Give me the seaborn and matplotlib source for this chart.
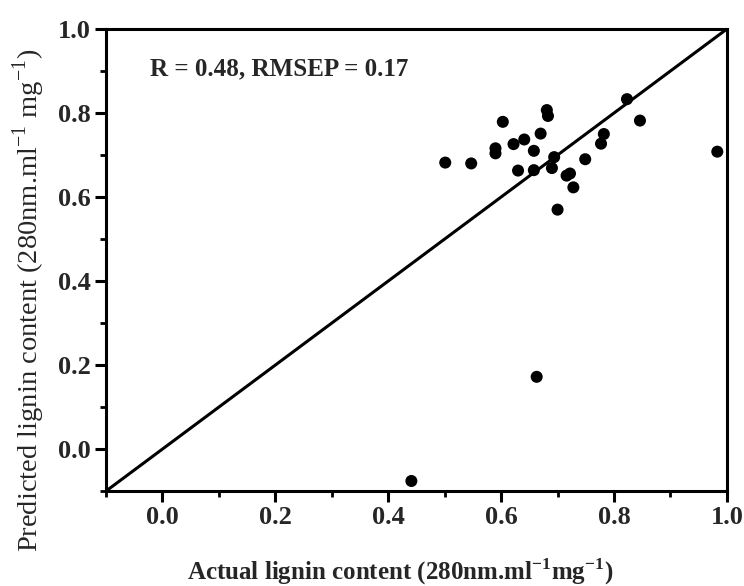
import matplotlib
matplotlib.use("Agg")
import matplotlib.pyplot as plt
from matplotlib.ticker import MultipleLocator
import seaborn as sns
import pandas as pd

# values
actual = [0.501, 0.547, 0.590, 0.590, 0.603, 0.622, 0.641, 0.658, 0.670,
          0.681, 0.683, 0.630, 0.658, 0.694, 0.690, 0.716, 0.722, 0.728,
          0.700, 0.749, 0.777, 0.782, 0.823, 0.846, 0.983, 0.663, 0.441]
predicted = [0.682, 0.680, 0.716, 0.704, 0.779, 0.726, 0.737, 0.710, 0.751,
             0.807, 0.793, 0.663, 0.664, 0.695, 0.669, 0.651, 0.656, 0.623,
             0.570, 0.690, 0.727, 0.750, 0.833, 0.782, 0.708, 0.172, -0.076]
stats_label = "R = 0.48, RMSEP = 0.17"
x_label = "Actual lignin content (280nm.ml$^{\\mathbf{-1}}$mg$^{\\mathbf{-1}}$)"
y_label = "Predicted lignin content (280nm.ml$^{-1}$ mg$^{-1}$)"

df = pd.DataFrame({"actual": actual, "predicted": predicted})

sns.set_theme(style="ticks")
plt.rcParams["font.family"] = ["Liberation Serif", "DejaVu Serif"]
plt.rcParams["mathtext.fontset"] = "custom"
plt.rcParams["mathtext.rm"] = "Liberation Serif"
plt.rcParams["mathtext.bf"] = "Liberation Serif:bold"

fig = plt.figure(figsize=(7.44, 5.86), dpi=100)
ax = fig.add_axes([0.1425, 0.162, 0.8345, 0.7885])

sns.scatterplot(data=df, x="actual", y="predicted", color="black",
                s=75, edgecolor="none", ax=ax, zorder=3)
ax.axline((0, 0), slope=1, color="black", linewidth=2.2, zorder=2)

ax.set_xlim(-0.1, 1.0)
ax.set_ylim(-0.1, 1.0)
ax.xaxis.set_major_locator(MultipleLocator(0.2))
ax.xaxis.set_minor_locator(MultipleLocator(0.1))
ax.yaxis.set_major_locator(MultipleLocator(0.2))
ax.yaxis.set_minor_locator(MultipleLocator(0.1))
ax.tick_params(which="major", direction="out", length=8, width=2.2,
               labelsize=19, color="black", pad=3)
ax.tick_params(which="minor", direction="out", length=4.5, width=2, color="black")
for lab in ax.get_xticklabels() + ax.get_yticklabels():
    lab.set_fontweight("bold")

for side in ["left", "right", "top", "bottom"]:
    ax.spines[side].set_visible(True)
    ax.spines[side].set_linewidth(2.2)
    ax.spines[side].set_color("black")

ax.text(0.071, 0.90, stats_label, transform=ax.transAxes, fontsize=18,
        fontweight="bold", ha="left", va="baseline")

ax.set_xlabel(x_label, fontsize=18, fontweight="bold")
ax.xaxis.set_label_coords(0.473, -0.141)
ax.set_ylabel(y_label, fontsize=20.5)
ax.yaxis.set_label_coords(-0.095, 0.413)

fig.savefig("out.png", dpi=100)
plt.close(fig)
